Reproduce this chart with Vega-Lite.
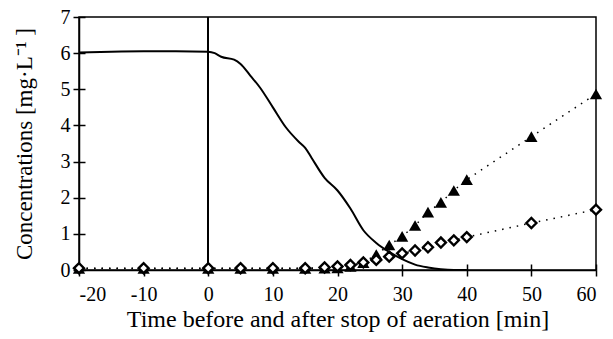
{
  "$schema": "https://vega.github.io/schema/vega-lite/v6.json",
  "width": 517,
  "height": 253,
  "autosize": "none",
  "padding": {"left": 79, "top": 17, "right": 17, "bottom": 69},
  "background": "white",
  "config": {
    "view": {"stroke": "black", "strokeWidth": 1.5},
    "font": "Liberation Serif",
    "axis": {"labelFont": "Liberation Serif", "labelFontSize": 20, "labelColor": "black", "titleFont": "Liberation Serif", "titleFontWeight": "normal", "titleColor": "black"}
  },
  "datasets": {
    "solid": [
      {"t": -20, "v": 6.02}, {"t": -15, "v": 6.04}, {"t": -10, "v": 6.05}, {"t": -5, "v": 6.05},
      {"t": 0, "v": 6.04}, {"t": 1, "v": 6.0}, {"t": 2, "v": 5.9}, {"t": 4, "v": 5.82},
      {"t": 5, "v": 5.7}, {"t": 6.5, "v": 5.38}, {"t": 8, "v": 5.05}, {"t": 10, "v": 4.5},
      {"t": 12, "v": 3.95}, {"t": 14, "v": 3.55}, {"t": 15, "v": 3.38}, {"t": 16, "v": 3.1},
      {"t": 18, "v": 2.55}, {"t": 20, "v": 2.2}, {"t": 22, "v": 1.7}, {"t": 24, "v": 1.1},
      {"t": 26, "v": 0.75}, {"t": 28, "v": 0.5}, {"t": 30, "v": 0.3}, {"t": 32, "v": 0.15},
      {"t": 34, "v": 0.07}, {"t": 36, "v": 0.02}, {"t": 38, "v": 0}, {"t": 40, "v": 0}
    ],
    "diamond": [
      {"t": -20, "v": 0.05}, {"t": -10, "v": 0.05}, {"t": 0, "v": 0.05}, {"t": 5, "v": 0.05},
      {"t": 10, "v": 0.05}, {"t": 15, "v": 0.05}, {"t": 18, "v": 0.07}, {"t": 20, "v": 0.1},
      {"t": 22, "v": 0.14}, {"t": 24, "v": 0.21}, {"t": 26, "v": 0.28}, {"t": 28, "v": 0.37},
      {"t": 30, "v": 0.46}, {"t": 32, "v": 0.54}, {"t": 34, "v": 0.63}, {"t": 36, "v": 0.76},
      {"t": 38, "v": 0.82}, {"t": 40, "v": 0.91}, {"t": 50, "v": 1.3}, {"t": 60, "v": 1.67}
    ],
    "triangle": [
      {"t": -20, "v": 0.04}, {"t": -10, "v": 0.04}, {"t": 0, "v": 0.04}, {"t": 5, "v": 0.04},
      {"t": 10, "v": 0.04}, {"t": 15, "v": 0.04}, {"t": 18, "v": 0.05}, {"t": 20, "v": 0.06},
      {"t": 22, "v": 0.1}, {"t": 24, "v": 0.2}, {"t": 26, "v": 0.43}, {"t": 28, "v": 0.69},
      {"t": 30, "v": 0.93}, {"t": 32, "v": 1.23}, {"t": 34, "v": 1.6}, {"t": 36, "v": 1.87},
      {"t": 38, "v": 2.2}, {"t": 40, "v": 2.5}, {"t": 50, "v": 3.69}, {"t": 60, "v": 4.87}
    ]
  },
  "resolve": {"axis": {"x": "independent", "y": "independent"}},
  "layer": [
    {
      "data": {"name": "solid"},
      "mark": {"type": "line", "color": "black", "strokeWidth": 2, "interpolate": "monotone"},
      "encoding": {
        "x": {
          "field": "t", "type": "quantitative",
          "scale": {"domain": [-20, 60], "nice": false},
          "axis": {
            "orient": "bottom",
            "title": "Time before and after stop of aeration [min]",
            "values": [-20, -10, 0, 10, 20, 30, 40, 50, 60],
            "labelExpr": "'' + datum.value",
            "grid": false, "domainColor": "black", "domainWidth": 1.5,
            "tickColor": "black", "tickWidth": 1.5, "tickSize": 6,
            "labelFontSize": 20, "labelPadding": 8,
            "titleFontSize": 24, "titlePadding": 3
          }
        },
        "y": {
          "field": "v", "type": "quantitative",
          "scale": {"domain": [0, 7], "nice": false},
          "axis": {
            "orient": "left",
            "title": "Concentrations [mg·L⁻¹ ]",
            "values": [0, 1, 2, 3, 4, 5, 6, 7],
            "labelExpr": "'' + datum.value",
            "grid": false, "domainColor": "black", "domainWidth": 1.5,
            "tickColor": "black", "tickWidth": 1.5, "tickSize": 6,
            "labelFontSize": 20, "labelPadding": 3,
            "titleFontSize": 23, "titlePadding": 24
          }
        }
      }
    },
    {
      "data": {"name": "solid"},
      "mark": {"type": "point", "opacity": 0},
      "encoding": {
        "x": {
          "field": "t", "type": "quantitative",
          "axis": {
            "orient": "bottom", "title": null, "labels": false, "domain": false, "grid": false,
            "values": [-20, -10, 0, 10, 20, 30, 40, 50, 60],
            "tickColor": "black", "tickWidth": 1.5, "tickSize": -6
          }
        },
        "y": {
          "field": "v", "type": "quantitative",
          "axis": {
            "orient": "left", "title": null, "labels": false, "domain": false, "grid": false,
            "values": [0, 1, 2, 3, 4, 5, 6, 7],
            "tickColor": "black", "tickWidth": 1.5, "tickSize": -6
          }
        }
      }
    },
    {
      "data": {"name": "solid"},
      "mark": {"type": "rule", "color": "black", "strokeWidth": 1.5},
      "encoding": {
        "x": {"datum": 0, "type": "quantitative", "axis": null},
        "y": {"datum": 0, "type": "quantitative", "axis": null},
        "y2": {"datum": 7}
      }
    },
    {
      "data": {"name": "triangle"},
      "mark": {"type": "line", "color": "black", "strokeWidth": 1.5, "strokeDash": [1.5, 6]},
      "encoding": {
        "x": {"field": "t", "type": "quantitative", "axis": null},
        "y": {"field": "v", "type": "quantitative", "axis": null}
      }
    },
    {
      "data": {"name": "diamond"},
      "mark": {"type": "line", "color": "black", "strokeWidth": 1.5, "strokeDash": [1.5, 6]},
      "encoding": {
        "x": {"field": "t", "type": "quantitative", "axis": null},
        "y": {"field": "v", "type": "quantitative", "axis": null}
      }
    },
    {
      "data": {"name": "triangle"},
      "mark": {"type": "point", "shape": "triangle-up", "filled": true, "color": "black", "size": 150, "opacity": 1},
      "encoding": {
        "x": {"field": "t", "type": "quantitative", "axis": null},
        "y": {"field": "v", "type": "quantitative", "axis": null}
      }
    },
    {
      "data": {"name": "diamond"},
      "mark": {"type": "point", "shape": "diamond", "filled": true, "fill": "white", "stroke": "black", "strokeWidth": 2.4, "size": 100, "opacity": 1},
      "encoding": {
        "x": {"field": "t", "type": "quantitative", "axis": null},
        "y": {"field": "v", "type": "quantitative", "axis": null}
      }
    }
  ]
}
